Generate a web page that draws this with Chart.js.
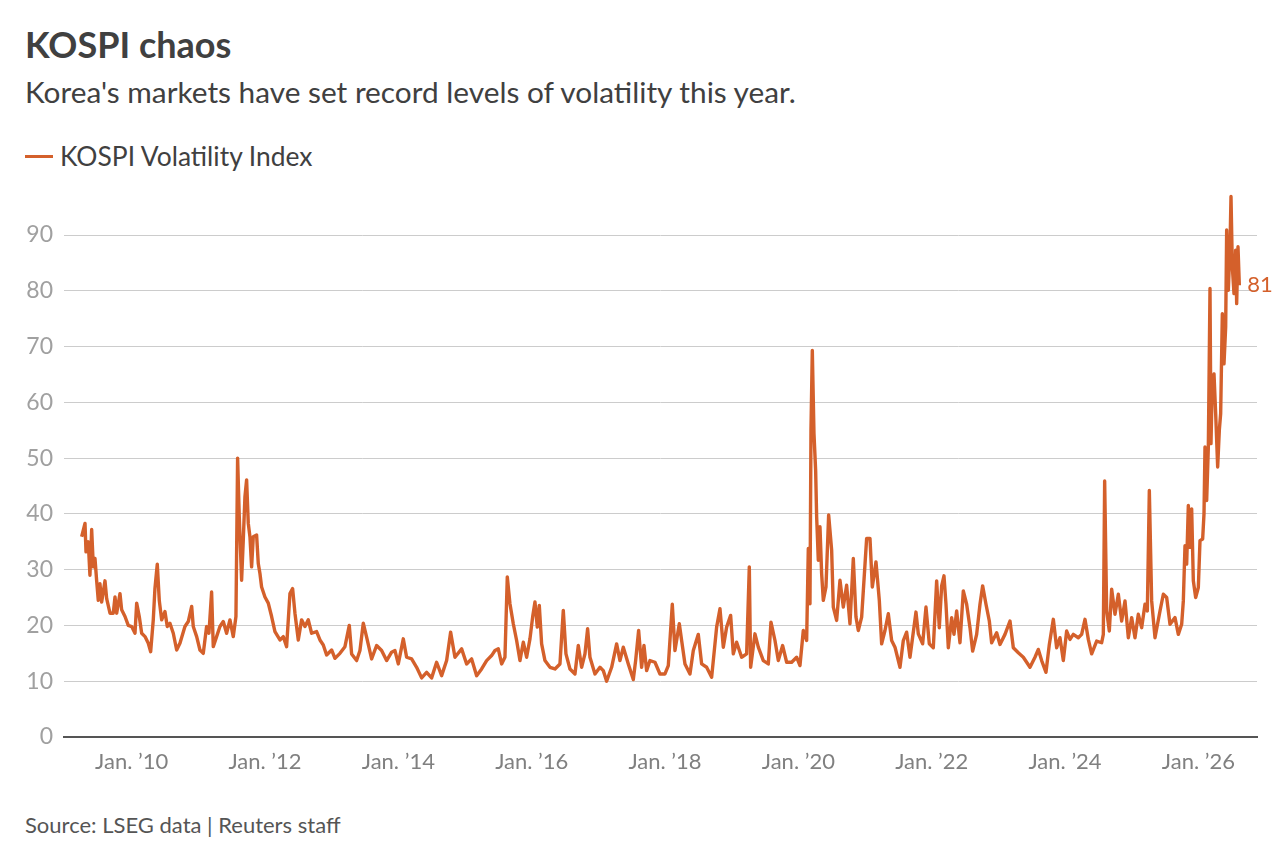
<!DOCTYPE html>
<html>
<head>
<meta charset="utf-8">
<script src="https://cdn.jsdelivr.net/npm/chart.js@4.4.1/dist/chart.umd.min.js"></script>
<style>
  html, body { margin: 0; padding: 0; background: #ffffff; }
  body { width: 1274px; height: 858px; position: relative; overflow: hidden; font-family: Lato, "Noto Sans", sans-serif; }
  .txt { position: absolute; left: 25px; white-space: nowrap; line-height: 1.2; }
  #title { top: 22.5px; font-size: 36px; font-weight: 700; color: #404040; }
  #subtitle { top: 73.9px; font-size: 29.8px; font-weight: 400; color: #404040; }
  #legend { top: 140.5px; left: 25px; font-size: 26.4px; font-weight: 400; color: #404040; }
  #legend .sw { display: inline-block; width: 28px; height: 3px; background: #d4602b; vertical-align: middle; margin-right: 7px; position: relative; top: -2px; }
  #source { top: 812px; font-size: 22px; color: #555555; }
  #chart { position: absolute; left: 0; top: 0; }
</style>
</head>
<body>
<div id="title" class="txt">KOSPI chaos</div>
<div id="subtitle" class="txt">Korea's markets have set record levels of volatility this year.</div>
<div id="legend" class="txt"><span class="sw"></span>KOSPI Volatility Index</div>
<div id="source" class="txt">Source: LSEG data | Reuters staff</div>
<canvas id="chart" width="1274" height="858"></canvas>
<script>
// Dates as decimal years
const dates = [
2009.250,2009.300,2009.315,2009.349,2009.374,2009.400,2009.425,2009.450,2009.475,2009.499,
2009.524,2009.550,2009.600,2009.625,2009.675,2009.724,2009.750,2009.775,2009.825,2009.850,
2009.900,2009.949,2010.000,2010.050,2010.075,2010.114,2010.150,2010.200,2010.249,2010.285,
2010.324,2010.349,2010.384,2010.414,2010.450,2010.499,2010.534,2010.574,2010.624,2010.675,
2010.724,2010.799,2010.849,2010.900,2010.924,2010.975,2011.024,2011.074,2011.124,2011.159,
2011.199,2011.224,2011.274,2011.324,2011.374,2011.424,2011.474,2011.524,2011.564,2011.589,
2011.614,2011.649,2011.674,2011.699,2011.724,2011.749,2011.774,2011.799,2011.824,2011.874,
2011.899,2011.924,2011.949,2011.999,2012.049,2012.099,2012.149,2012.224,2012.274,2012.324,
2012.374,2012.414,2012.449,2012.499,2012.549,2012.599,2012.649,2012.699,2012.774,2012.824,
2012.874,2012.924,2012.999,2013.049,2013.124,2013.199,2013.264,
2013.299,2013.374,2013.424,2013.474,2013.524,2013.599,2013.674,2013.749,2013.824,2013.899,
2013.949,2013.999,2014.074,2014.124,2014.199,2014.274,2014.349,2014.424,2014.499,2014.574,
2014.649,2014.724,2014.784,2014.849,2014.949,2015.024,2015.099,2015.174,2015.249,2015.324,
2015.399,2015.449,2015.499,2015.549,2015.599,2015.634,2015.674,2015.724,2015.774,2015.824,
2015.874,2015.924,2015.974,2016.014,2016.049,2016.084,2016.114,2016.149,2016.199,2016.274,
2016.349,2016.424,2016.474,2016.514,2016.574,2016.649,2016.699,2016.749,2016.799,2016.839,
2016.874,2016.949,2017.024,2017.074,2017.124,2017.199,2017.274,2017.324,2017.374,2017.449,
2017.524,2017.559,2017.604,2017.649,2017.684,2017.724,2017.774,
2017.849,2017.924,2017.999,2018.049,2018.109,2018.149,2018.214,2018.249,2018.299,2018.374,
2018.424,2018.499,2018.549,2018.624,2018.699,2018.774,2018.824,2018.874,2018.924,2018.984,
2019.024,2019.074,2019.149,2019.224,2019.264,2019.284,2019.349,2019.399,2019.474,2019.549,
2019.589,2019.649,2019.699,2019.764,2019.824,2019.899,2019.974,2020.024,2020.074,2020.124,
2020.149,2020.174,2020.189,2020.209,2020.234,2020.259,2020.274,2020.299,2020.324,2020.349,
2020.374,2020.414,2020.454,2020.499,2020.524,2020.574,2020.624,2020.674,2020.724,2020.774,
2020.824,2020.864,2020.899,2020.949,2021.024,2021.074,2021.109,2021.164,2021.214,2021.249,
2021.299,2021.349,2021.399,2021.449,2021.524,2021.574,2021.624,2021.674,2021.764,2021.799,
2021.864,2021.914,2021.964,
2022.024,2022.074,2022.114,2022.149,2022.184,2022.214,2022.249,2022.299,2022.334,2022.374,
2022.424,2022.474,2022.524,2022.574,2022.614,2022.674,2022.724,2022.764,2022.814,2022.864,
2022.899,2022.974,2023.024,2023.099,2023.174,2023.224,2023.299,2023.374,2023.474,2023.549,
2023.599,2023.649,2023.714,2023.764,2023.824,2023.874,2023.924,2023.974,2024.024,2024.074,
2024.124,2024.199,2024.249,2024.299,2024.349,2024.399,2024.474,2024.549,2024.574,2024.594,
2024.624,2024.664,2024.699,2024.749,2024.799,2024.849,2024.899,2024.949,2024.999,2025.049,
2025.099,2025.149,2025.199,2025.234,2025.264,2025.299,2025.349,2025.424,2025.474,2025.524,
2025.574,2025.649,2025.699,2025.749,2025.774,
2025.799,2025.824,2025.849,2025.874,2025.899,2025.924,2025.959,2025.999,2026.024,2026.064,
2026.084,2026.099,2026.124,2026.149,2026.174,2026.189,2026.209,2026.234,2026.259,2026.289,
2026.314,2026.334,2026.359,2026.384,2026.409,2026.424,2026.449,2026.474,2026.489,2026.509,
2026.534,2026.559,2026.574,2026.594,2026.614
];
const volatility = [
35.9,38.3,33.2,35.0,29.0,37.2,30.5,32.0,28.0,24.5,
27.5,24.2,28.0,24.8,22.2,22.2,25.1,22.2,25.7,22.8,
21.6,20.0,19.8,18.6,24.0,21.6,18.6,18.0,16.8,15.3,
21.0,26.6,31.0,24.5,21.0,22.5,19.8,20.4,18.6,15.6,
16.8,19.8,20.7,23.4,19.8,18.0,15.6,15.0,19.8,18.6,
26.0,16.2,18.0,19.8,20.7,18.6,21.0,18.0,21.6,50.0,
39.5,28.1,35.3,43.1,46.1,38.3,35.9,30.5,35.9,36.2,
31.1,29.3,26.9,25.1,24.0,21.6,18.9,17.4,18.0,16.2,
25.7,26.6,22.2,17.4,21.0,19.8,21.0,18.6,18.9,17.4,
16.5,14.7,15.6,14.1,15.0,16.2,20.0,
14.9,13.7,15.5,20.4,17.9,14.0,16.4,15.5,13.7,15.2,
15.5,13.1,17.6,14.3,14.0,12.5,10.6,11.6,10.6,13.4,
11.0,13.7,18.8,14.3,15.8,13.1,14.0,11.0,12.2,13.7,
14.6,15.5,15.8,13.1,14.3,28.7,23.9,20.3,17.3,13.7,
17.0,14.3,17.6,21.5,24.2,19.7,23.6,16.7,13.7,12.5,
12.2,13.1,22.7,14.9,12.2,11.3,16.4,12.5,14.9,19.4,
14.3,11.3,12.5,11.9,10.0,12.5,16.7,13.7,16.1,13.1,
10.3,13.7,19.1,12.5,16.4,11.9,13.7,
13.4,11.3,11.3,12.8,23.8,15.5,20.3,17.3,13.1,11.3,
15.5,18.4,13.1,12.5,10.7,19.7,23.0,16.1,19.7,21.8,
14.9,17.0,14.3,14.9,30.5,12.5,18.5,16.1,13.7,13.1,
20.6,17.3,13.7,16.4,13.4,13.4,14.3,12.8,19.1,17.3,
33.8,23.9,55.0,69.3,54.4,47.8,39.5,31.7,37.7,29.3,
24.5,26.9,39.8,33.5,23.3,20.9,28.1,23.3,27.2,20.3,
32.0,21.5,19.1,21.5,35.6,35.6,26.9,31.4,24.5,16.7,
19.1,22.1,17.3,16.1,12.5,17.3,18.8,14.3,22.4,18.5,
16.7,23.3,16.7,
16.0,28.0,19.6,27.1,28.9,23.8,16.0,21.4,18.4,22.6,
16.9,26.2,23.8,19.6,15.4,18.4,23.8,27.1,23.8,20.8,
16.9,18.7,16.6,18.4,20.8,16.0,15.1,14.3,12.5,14.3,
15.7,13.7,11.6,16.6,21.1,16.0,17.8,13.7,19.0,17.5,
18.4,17.8,18.4,21.1,17.5,14.9,17.2,16.9,18.4,45.9,
22.6,19.0,26.5,22.0,25.6,20.8,24.4,17.8,21.4,17.8,
22.0,19.6,23.8,22.6,44.2,24.4,17.8,22.6,25.6,25.0,
20.2,21.4,18.4,20.2,24.4,
34.3,31.0,41.5,34.0,40.9,28.0,25.0,26.8,35.2,35.5,
40.0,52.0,42.4,52.0,80.4,52.6,64.0,65.1,58.0,48.4,
55.0,58.0,75.9,66.9,73.5,90.9,80.1,87.9,96.9,84.3,
79.5,87.3,77.7,87.9,81.0
];
const tickYears = [2010, 2012, 2014, 2016, 2018, 2020, 2022, 2024, 2026];
const tickLabels = ["Jan. \u201910", "Jan. \u201912", "Jan. \u201914", "Jan. \u201916", "Jan. \u201918", "Jan. \u201920", "Jan. \u201922", "Jan. \u201924", "Jan. \u201926"];
const yTicks = [0, 10, 20, 30, 40, 50, 60, 70, 80, 90];
const lastLabel = "81";

const LINE = '#d4602b';
const points = dates.map((d, i) => ({ x: d, y: volatility[i] }));

const endLabel = {
  id: 'endLabel',
  afterDatasetsDraw(chart) {
    const meta = chart.getDatasetMeta(0);
    const last = meta.data[meta.data.length - 1];
    const ctx = chart.ctx;
    ctx.save();
    ctx.font = '400 22px Lato, "Noto Sans", sans-serif';
    ctx.fillStyle = LINE;
    ctx.textAlign = 'left';
    ctx.textBaseline = 'middle';
    ctx.fillText(lastLabel, last.x + 8, chart.scales.y.getPixelForValue(81));
    ctx.restore();
  }
};

new Chart(document.getElementById('chart'), {
  type: 'line',
  data: {
    datasets: [{
      data: points,
      borderColor: LINE,
      borderWidth: 3.4,
      pointRadius: 0,
      pointHoverRadius: 0,
      tension: 0,
      fill: false,
      borderJoinStyle: 'round',
      clip: false
    }]
  },
  options: {
    responsive: false,
    animation: false,
    events: [],
    layout: { padding: { top: 190.4, left: 0, right: 17, bottom: 81 } },
    plugins: { legend: { display: false }, tooltip: { enabled: false } },
    scales: {
      x: {
        type: 'linear',
        min: 2008.985,
        max: 2026.879,
        grid: { display: false, drawTicks: false },
        border: { display: true, color: '#555555', width: 2 },
        afterBuildTicks: (s) => { s.ticks = tickYears.map(v => ({ value: v })); },
        afterFit: (s) => { s.height = 40; },
        ticks: {
          autoSkip: false,
          maxRotation: 0,
          padding: 12,
          color: '#808080',
          font: { family: 'Lato, "Noto Sans", sans-serif', size: 22 },
          callback: (v) => { const i = tickYears.indexOf(v); return i >= 0 ? tickLabels[i] : ''; }
        }
      },
      y: {
        min: 0,
        max: 98,
        grid: { color: (c) => c.tick && c.tick.value === 0 ? '#555555' : '#cccccc', lineWidth: (c) => c.tick && c.tick.value === 0 ? 2 : 1, drawTicks: false },
        border: { display: false },
        afterBuildTicks: (s) => { s.ticks = yTicks.map(v => ({ value: v })); },
        afterFit: (s) => { s.width = 64; },
        ticks: {
          padding: 11,
          color: '#a0a0a0',
          font: { family: 'Lato, "Noto Sans", sans-serif', size: 23 }
        }
      }
    }
  },
  plugins: [endLabel]
});
</script>
</body>
</html>
